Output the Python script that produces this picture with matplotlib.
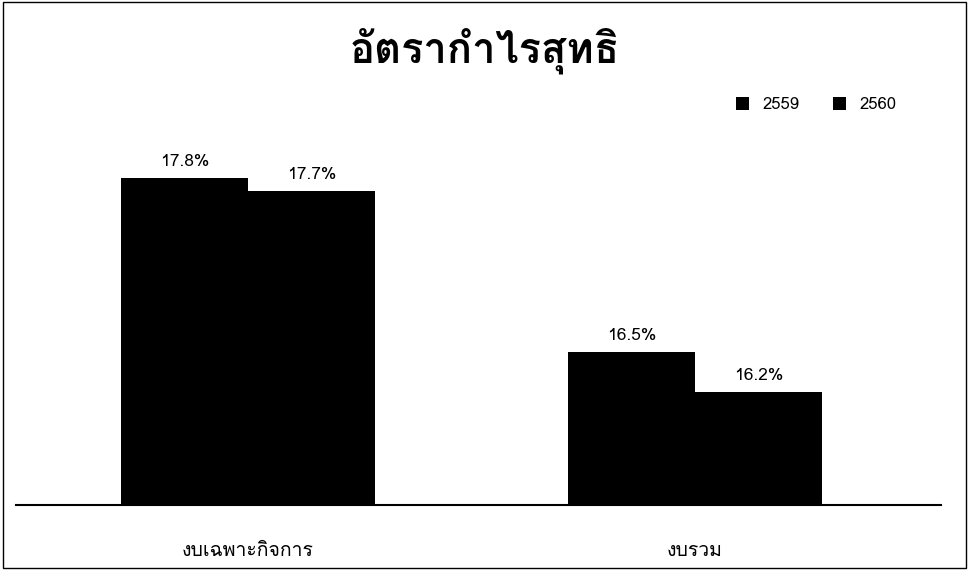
import matplotlib
matplotlib.use("Agg")
import matplotlib.pyplot as plt
from matplotlib import font_manager, ft2font
from matplotlib.patches import Rectangle

title = "อัตรากำไรสุทธิ"
categories = ["งบเฉพาะกิจการ", "งบรวม"]
years = ["2559", "2560"]
values_2559 = [17.8, 16.5]
values_2560 = [17.7, 16.2]


# find an installed font that has Thai glyphs
def thai_font():
    for f in font_manager.fontManager.ttflist:
        try:
            cmap = ft2font.FT2Font(f.fname).get_charmap()
        except Exception:
            continue
        if 0x0E2D in cmap and 0x0E31 in cmap:
            return f.name
    return None


thai = thai_font()
families = [thai, "DejaVu Sans"] if thai else ["DejaVu Sans"]
plt.rcParams['font.family'] = families

fig = plt.figure(figsize=(9.69, 5.87), dpi=100)
ax = fig.add_axes([0.016, 0.14, 0.955, 0.74])

x = [0, 1]
w = 0.285
ax.bar([i - w / 2 for i in x], values_2559, width=w, color="black", label=years[0])
ax.bar([i + w / 2 for i in x], values_2560, width=w, color="black", label=years[1])

for i in x:
    ax.text(i - w / 2, values_2559[i] + 0.06, f"{values_2559[i]}%", ha="center",
            va="bottom", fontsize=12.5)
    ax.text(i + w / 2, values_2560[i] + 0.06, f"{values_2560[i]}%", ha="center",
            va="bottom", fontsize=12.5)

ax.set_ylim(15.36, 18.6)
ax.set_xlim(-0.52, 1.55)
ax.set_yticks([])
ax.set_xticks(x)
ax.set_xticklabels(categories, fontsize=14)
ax.tick_params(axis="x", length=0, pad=27)
for s in ["top", "right", "left"]:
    ax.spines[s].set_visible(False)
ax.spines["bottom"].set_linewidth(1.5)

fig.text(0.5, 0.913, title, ha="center", va="center", fontsize=30, fontweight="bold")
ax.legend(loc="upper right", bbox_to_anchor=(0.968, 0.973), ncol=2, frameon=False,
          fontsize=12, handlelength=0.8, handleheight=0.8, columnspacing=2.0)

fig.patches.append(Rectangle((0.003, 0.032), 0.994, 0.964, transform=fig.transFigure,
                             fill=False, edgecolor="black", linewidth=1))

fig.savefig("out.png", dpi=100)
